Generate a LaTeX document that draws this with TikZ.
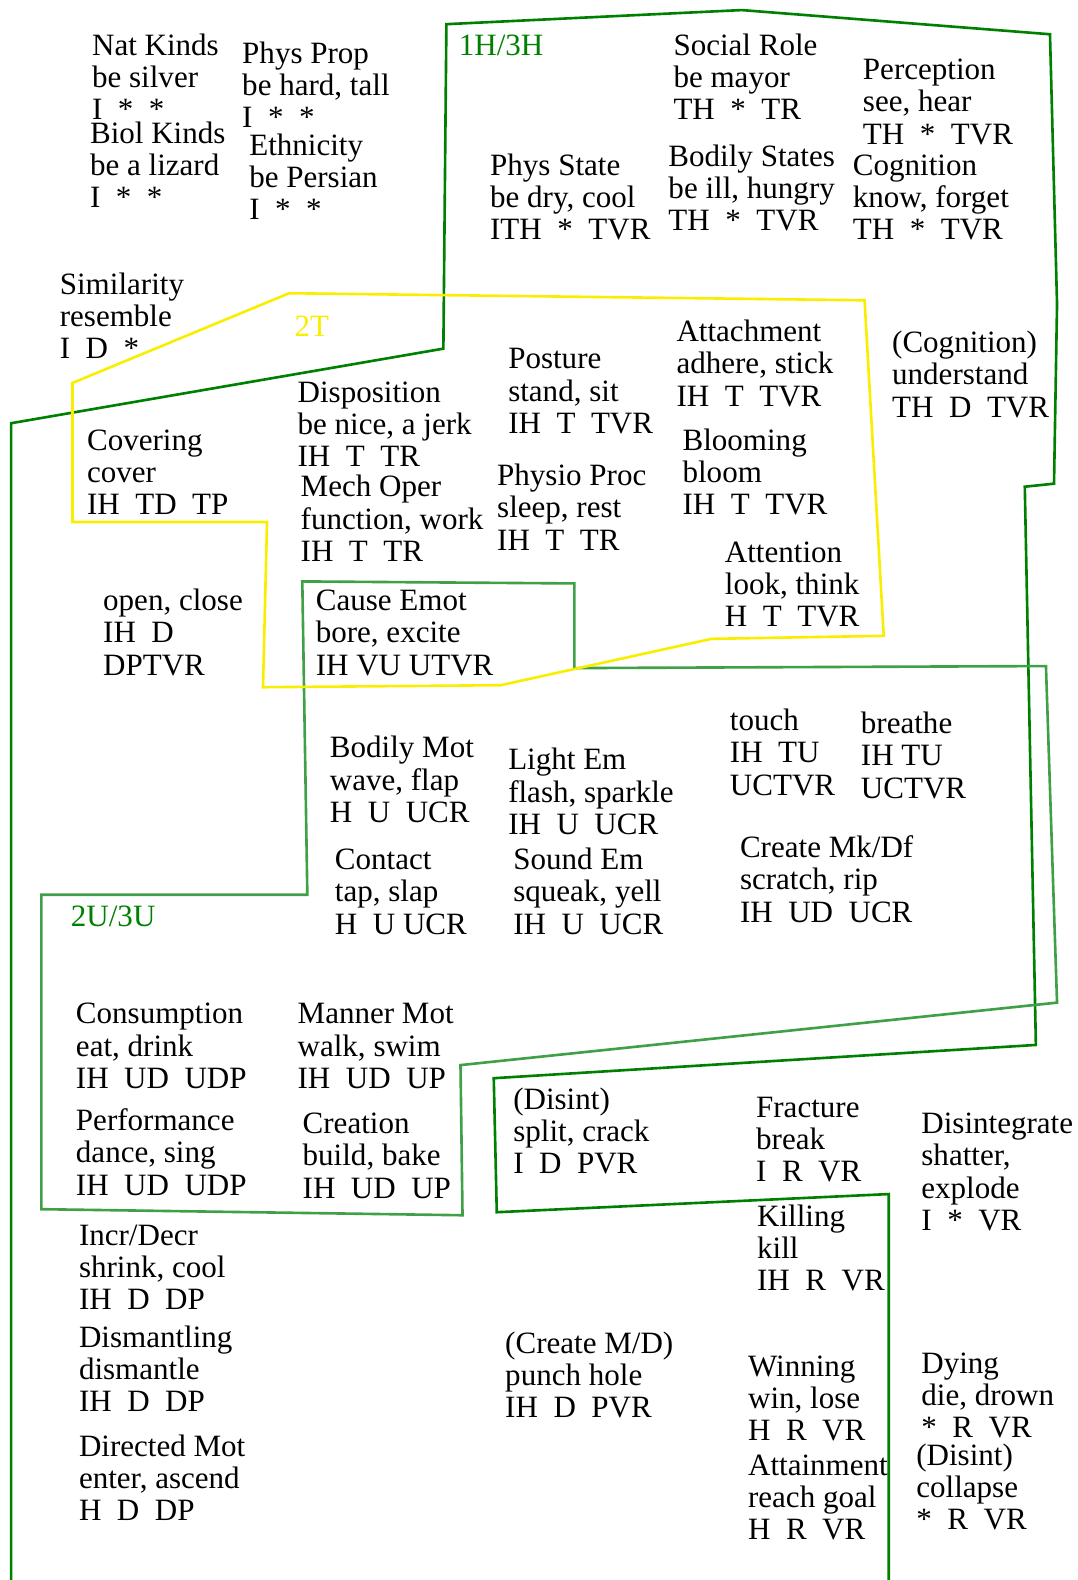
\documentclass[tikz,border=0pt]{standalone}
\usepackage{fontspec}
\setmainfont{Liberation Serif}
\usepackage{tikz}

\definecolor{dgreen}{RGB}{0,128,0}
\definecolor{lgreen}{RGB}{64,160,72}
\definecolor{yell}{RGB}{250,238,0}
\lineskiplimit=-20pt

\tikzset{
  verb/.style={anchor=base west, inner sep=0pt, align=left,
    font=\fontsize{15.4}{16}\selectfont},
  tag/.style={anchor=base west, inner sep=0pt,
    font=\fontsize{15.4}{16}\selectfont},
  region/.style={line width=1.3pt, line join=miter},
}

\begin{document}
\begin{tikzpicture}[x=0.5pt, y=-0.5pt]
\useasboundingbox (0,0) rectangle (1069,1568);

% Regions
\draw[region, dgreen] (11,1568) -- (11,420) -- (440,346) -- (443,24) -- (736,10)
  -- (1042,34) -- (1049,302) -- (1046,480) -- (1017,483) -- (1028,1037)
  -- (490,1070) -- (493,1203) -- (882,1185) -- (882,1568);
\draw[region, lgreen] (300,577) -- (570,579) -- (570,663) -- (1038,661) -- (1049,995)
  -- (457,1057) -- (459,1206) -- (41,1200) -- (41,888) -- (305,888) -- cycle;
\draw[region, yell] (72,380) -- (287,291) -- (858,298) -- (877,631) -- (706,634)
  -- (497,680) -- (261,682) -- (265,518) -- (72,518) -- cycle;

% Region labels
\node[tag, dgreen] (lab1h) at (455,55) {1H/3H};
\node[tag, yell] (lab2t) at (292,334) {2T};
\node[tag, dgreen] (lab2u) at (70,919) {2U/3U};

% Verb classes (placed at the baseline of the last line)
\node[verb] (natkinds) at (91,119) {Nat Kinds\\be silver\\I~~*~~*};
\node[verb] (biolkinds) at (89,206) {Biol Kinds\\be a lizard\\I~~*~~*};
\node[verb] (physprop) at (240,127) {Phys Prop\\be hard, tall\\I~~*~~*};
\node[verb] (ethnicity) at (247,218) {Ethnicity\\be Persian\\I~~*~~*};
\node[verb] (similarity) at (59,356) {Similarity\\resemble\\I~~D~~*};
\node[verb] (socialrole) at (668,119) {Social Role\\be mayor\\TH~~*~~TR};
\node[verb] (perception) at (856,143) {Perception\\see, hear\\TH~~*~~TVR};
\node[verb] (physstate) at (486,238) {Phys State\\be dry, cool\\ITH~~*~~TVR};
\node[verb] (bodilystates) at (663,229) {Bodily States\\be ill, hungry\\TH~~*~~TVR};
\node[verb] (cognition) at (846,238) {Cognition\\know, forget\\TH~~*~~TVR};
\node[verb] (understand) at (885,414) {(Cognition)\\understand\\TH~~D~~TVR};
\node[verb] (posture) at (504,430) {Posture\\stand, sit\\IH~~T~~TVR};
\node[verb] (attachment) at (671,403) {Attachment\\adhere, stick\\IH~~T~~TVR};
\node[verb] (disposition) at (295,463) {Disposition\\be nice, a jerk\\IH~~T~~TR};
\node[verb] (mechoper) at (298,557) {Mech Oper\\function, work\\IH~~T~~TR};
\node[verb] (covering) at (86,511) {Covering\\cover\\IH~~TD~~TP};
\node[verb] (physioproc) at (493,546) {Physio Proc\\sleep, rest\\IH~~T~~TR};
\node[verb] (blooming) at (677,511) {Blooming\\bloom\\IH~~T~~TVR};
\node[verb] (attention) at (719,622) {Attention\\look, think\\H~~T~~TVR};
\node[verb] (openclose) at (102,670) {open, close\\IH~~D\\DPTVR};
\node[verb] (causeemot) at (313,670) {Cause Emot\\bore, excite\\IH VU UTVR};
\node[verb] (bodilymot) at (327,816) {Bodily Mot\\wave, flap\\H~~U~~UCR};
\node[verb] (lightem) at (504,828) {Light Em\\flash, sparkle\\IH~~U~~UCR};
\node[verb] (touch) at (724,789) {touch\\IH~~TU\\UCTVR};
\node[verb] (breathe) at (854,792) {breathe\\IH TU\\UCTVR};
\node[verb] (contact) at (332,927) {Contact\\tap, slap\\H~~U UCR};
\node[verb] (soundem) at (509,927) {Sound Em\\squeak, yell\\IH~~U~~UCR};
\node[verb] (createmkdf) at (734,915) {Create Mk/Df\\scratch, rip\\IH~~UD~~UCR};
\node[verb] (consumption) at (75,1080) {Consumption\\eat, drink\\IH~~UD~~UDP};
\node[verb] (mannermot) at (295,1080) {Manner Mot\\walk, swim\\IH~~UD~~UP};
\node[verb] (performance) at (75,1186) {Performance\\dance, sing\\IH~~UD~~UDP};
\node[verb] (creation) at (300,1189) {Creation\\build, bake\\IH~~UD~~UP};
\node[verb] (disintsplit) at (509,1165) {(Disint)\\split, crack\\I~~D~~PVR};
\node[verb] (fracture) at (750,1173) {Fracture\\break\\I~~R~~VR};
\node[verb] (disintegrate) at (914,1221) {Disintegrate\\shatter,\\explode\\I~~*~~VR};
\node[verb] (killing) at (751,1281) {Killing\\kill\\IH~~R~~VR};
\node[verb] (incrdecr) at (78,1300) {Incr/Decr\\shrink, cool\\IH~~D~~DP};
\node[verb] (dismantling) at (78,1401) {Dismantling\\dismantle\\IH~~D~~DP};
\node[verb] (directedmot) at (78,1509) {Directed Mot\\enter, ascend\\H~~D~~DP};
\node[verb] (createmd) at (501,1407) {(Create M/D)\\punch hole\\IH~~D~~PVR};
\node[verb] (winning) at (742,1430) {Winning\\win, lose\\H~~R~~VR};
\node[verb] (attainment) at (742,1528) {Attainment\\reach goal\\H~~R~~VR};
\node[verb] (dying) at (914,1427) {Dying\\die, drown\\*~~R~~VR};
\node[verb] (disintcollapse) at (909,1518) {(Disint)\\collapse\\*~~R~~VR};
\end{tikzpicture}
\end{document}
